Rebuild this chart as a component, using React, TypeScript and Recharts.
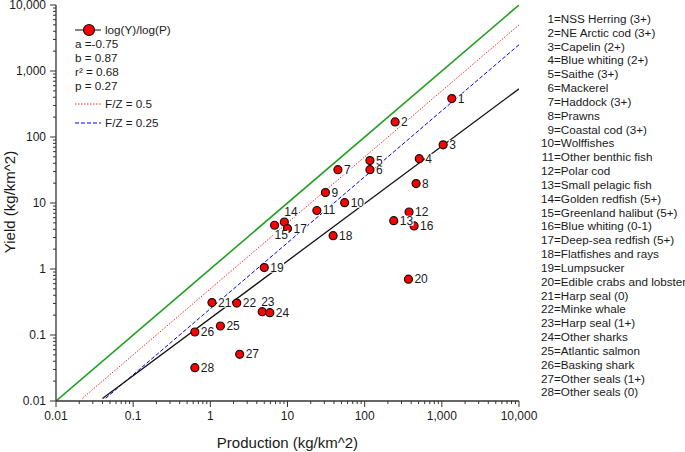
import React from "react";
import { ComposedChart, Line, Scatter, XAxis, YAxis } from "recharts";

const DECADES = [0.01, 0.1, 1, 10, 100, 1000, 10000];
const DECADE_LABELS = ["0.01", "0.1", "1", "10", "100", "1,000", "10,000"];

const SPECIES = [
  "NSS Herring (3+)",
  "NE Arctic cod (3+)",
  "Capelin (2+)",
  "Blue whiting (2+)",
  "Saithe (3+)",
  "Mackerel",
  "Haddock (3+)",
  "Prawns",
  "Coastal cod (3+)",
  "Wolffishes",
  "Other benthic fish",
  "Polar cod",
  "Small pelagic fish",
  "Golden redfish (5+)",
  "Greenland halibut (5+)",
  "Blue whiting (0-1)",
  "Deep-sea redfish (5+)",
  "Flatfishes and rays",
  "Lumpsucker",
  "Edible crabs and lobster",
  "Harp seal (0)",
  "Minke whale",
  "Harp seal (1+)",
  "Other sharks",
  "Atlantic salmon",
  "Basking shark",
  "Other seals (1+)",
  "Other seals (0)",
];

// production (x) and yield (y), kg/km^2, in species order
const PRODUCTION = [
  1346, 248, 1040, 510, 117, 117, 45, 464, 31, 55, 24, 376, 238, 9.1, 6.8, 437,
  10, 39, 5.0, 369, 1.05, 2.2, 4.7, 5.9, 1.35, 0.63, 2.4, 0.63,
];
const YIELD = [
  382, 169, 76, 47, 44, 32, 32, 19.7, 14.4, 10.1, 7.7, 7.3, 5.4, 5.15, 4.6, 4.5,
  4.1, 3.2, 1.05, 0.7, 0.31, 0.305, 0.226, 0.218, 0.137, 0.111, 0.051, 0.032,
];

// reference lines, end points
const ONE_TO_ONE = [
  { x: 0.01, y: 0.01 },
  { x: 10000, y: 10000 },
];
const FZ_HALF = [
  { x: 0.022, y: 0.011 },
  { x: 10000, y: 5000 },
];
const FZ_QUARTER = [
  { x: 0.044, y: 0.011 },
  { x: 10000, y: 2500 },
];
const REGRESSION = [
  { x: 0.04, y: 0.0109 },
  { x: 10000, y: 537 },
];

const points = PRODUCTION.map((x, i) => ({ id: i + 1, x, y: YIELD[i] }));

// labels that don't sit to the right of their dot
const LABEL_SHIFT: Record<number, [number, number]> = {
  14: [0, -10],
  15: [0, 10],
  23: [-1, -10],
};

const FONT = "'Liberation Sans', Arial, sans-serif";
const INK = "#1a1a1a";
const AXIS = "#333";

const ticks: number[] = [];
DECADES.forEach((d, i) => {
  ticks.push(d);
  if (i < DECADES.length - 1) for (let m = 2; m <= 9; m++) ticks.push(m * d);
});

function XTick(props: any) {
  const { x, y, payload } = props;
  const i = DECADES.indexOf(payload.value);
  return (
    <g>
      <line x1={x} x2={x} y1={y} y2={y + (i >= 0 ? 6 : 3)} stroke={AXIS} />
      {i >= 0 && (
        <text x={x} y={y + 19} textAnchor="middle" fontSize={12} fill={INK} fontFamily={FONT}>
          {DECADE_LABELS[i]}
        </text>
      )}
    </g>
  );
}

function YTick(props: any) {
  const { x, y, payload } = props;
  const i = DECADES.indexOf(payload.value);
  return (
    <g>
      <line x1={x} x2={x - (i >= 0 ? 6 : 3)} y1={y} y2={y} stroke={AXIS} />
      {i >= 0 && (
        <text x={x - 10} y={y + 4} textAnchor="end" fontSize={12} fill={INK} fontFamily={FONT}>
          {DECADE_LABELS[i]}
        </text>
      )}
    </g>
  );
}

function Dot(props: any) {
  const { cx, cy } = props;
  if (cx == null || cy == null) return null;
  return <circle cx={cx} cy={cy} r={4} fill="#ff0000" stroke="#111" strokeWidth={1.2} />;
}

function NumberTag(props: any) {
  const { cx, cy, payload } = props;
  if (cx == null || cy == null) return null;
  const [dx, dy] = LABEL_SHIFT[payload.id] ?? [6, 0];
  const txt = String(payload.id);
  const w = txt.length * 6.7;
  return (
    <g>
      <rect x={cx + dx - 0.5} y={cy + dy - 5} width={w + 1} height={10} fill="#fff" />
      <text x={cx + dx} y={cy + dy + 4} fontSize={12} fill={INK} fontFamily={FONT}>
        {txt}
      </text>
    </g>
  );
}

export default function App() {
  return (
    <div style={{ position: "absolute", left: 0, top: 0, width: 685, height: 452, background: "#fff" }}>
      <ComposedChart width={685} height={452} margin={{ top: 5, right: 166, bottom: 0, left: 0 }}>
        <XAxis
          dataKey="x"
          type="number"
          scale="log"
          domain={[0.01, 10000]}
          allowDataOverflow
          ticks={ticks}
          interval={0}
          tick={<XTick />}
          tickLine={false}
          tickSize={0}
          tickMargin={0}
          height={51}
          axisLine={{ stroke: AXIS, strokeWidth: 1.3 }}
        />
        <YAxis
          dataKey="y"
          type="number"
          scale="log"
          domain={[0.01, 10000]}
          allowDataOverflow
          ticks={ticks}
          interval={0}
          tick={<YTick />}
          tickLine={false}
          tickSize={0}
          tickMargin={0}
          width={56}
          axisLine={{ stroke: AXIS, strokeWidth: 1.3 }}
        />
        <Line data={ONE_TO_ONE} dataKey="y" stroke="#1fa01f" strokeWidth={1.6} dot={false} isAnimationActive={false} />
        <Line
          data={FZ_HALF}
          dataKey="y"
          stroke="#ff2a2a"
          strokeWidth={1}
          strokeDasharray="1.5 1.5"
          dot={false}
          isAnimationActive={false}
        />
        <Line
          data={FZ_QUARTER}
          dataKey="y"
          stroke="#0000ff"
          strokeWidth={1}
          strokeDasharray="4 2"
          dot={false}
          isAnimationActive={false}
        />
        <Line data={REGRESSION} dataKey="y" stroke="#111" strokeWidth={1.3} dot={false} isAnimationActive={false} />
        <Scatter data={points} dataKey="y" shape={<Dot />} isAnimationActive={false} />
        <Scatter data={points} dataKey="y" shape={<NumberTag />} isAnimationActive={false} />
      </ComposedChart>

      <svg
        width={685}
        height={452}
        style={{ position: "absolute", left: 0, top: 0, pointerEvents: "none" }}
        fontFamily={FONT}
        fill={INK}
      >
        <text x={287.5} y={448} textAnchor="middle" fontSize={15}>
          Production (kg/km^2)
        </text>
        <text x={15} y={202} textAnchor="middle" fontSize={15} transform="rotate(-90 15 202)">
          Yield (kg/km^2)
        </text>

        {/* legend */}
        <line x1={75} x2={101} y1={30} y2={30} stroke="#333" strokeWidth={1.2} />
        <circle cx={89} cy={30} r={5.5} fill="#ff0000" stroke="#111" strokeWidth={1.2} />
        <text x={105} y={34} fontSize={11.7}>log(Y)/log(P)</text>
        <text x={75} y={48} fontSize={11.7}>a =-0.75</text>
        <text x={75} y={62} fontSize={11.7}>b = 0.87</text>
        <text x={75} y={76} fontSize={11.7}>r² = 0.68</text>
        <text x={75} y={89.5} fontSize={11.7}>p = 0.27</text>
        <line x1={75} x2={101} y1={104} y2={104} stroke="#ff2a2a" strokeDasharray="1.5 1.5" />
        <text x={105} y={108} fontSize={11.7}>F/Z = 0.5</text>
        <line x1={75} x2={101} y1={123} y2={123} stroke="#0000ff" strokeDasharray="4 2" />
        <text x={105} y={127} fontSize={11.7}>F/Z = 0.25</text>

        {/* species key */}
        {SPECIES.map((name, i) => (
          <g key={name}>
            <text x={554} y={23 + i * 13.83} textAnchor="end" fontSize={11.7}>
              {i + 1}
            </text>
            <text x={554} y={23 + i * 13.83} fontSize={11.7}>
              ={name}
            </text>
          </g>
        ))}
      </svg>
    </div>
  );
}
